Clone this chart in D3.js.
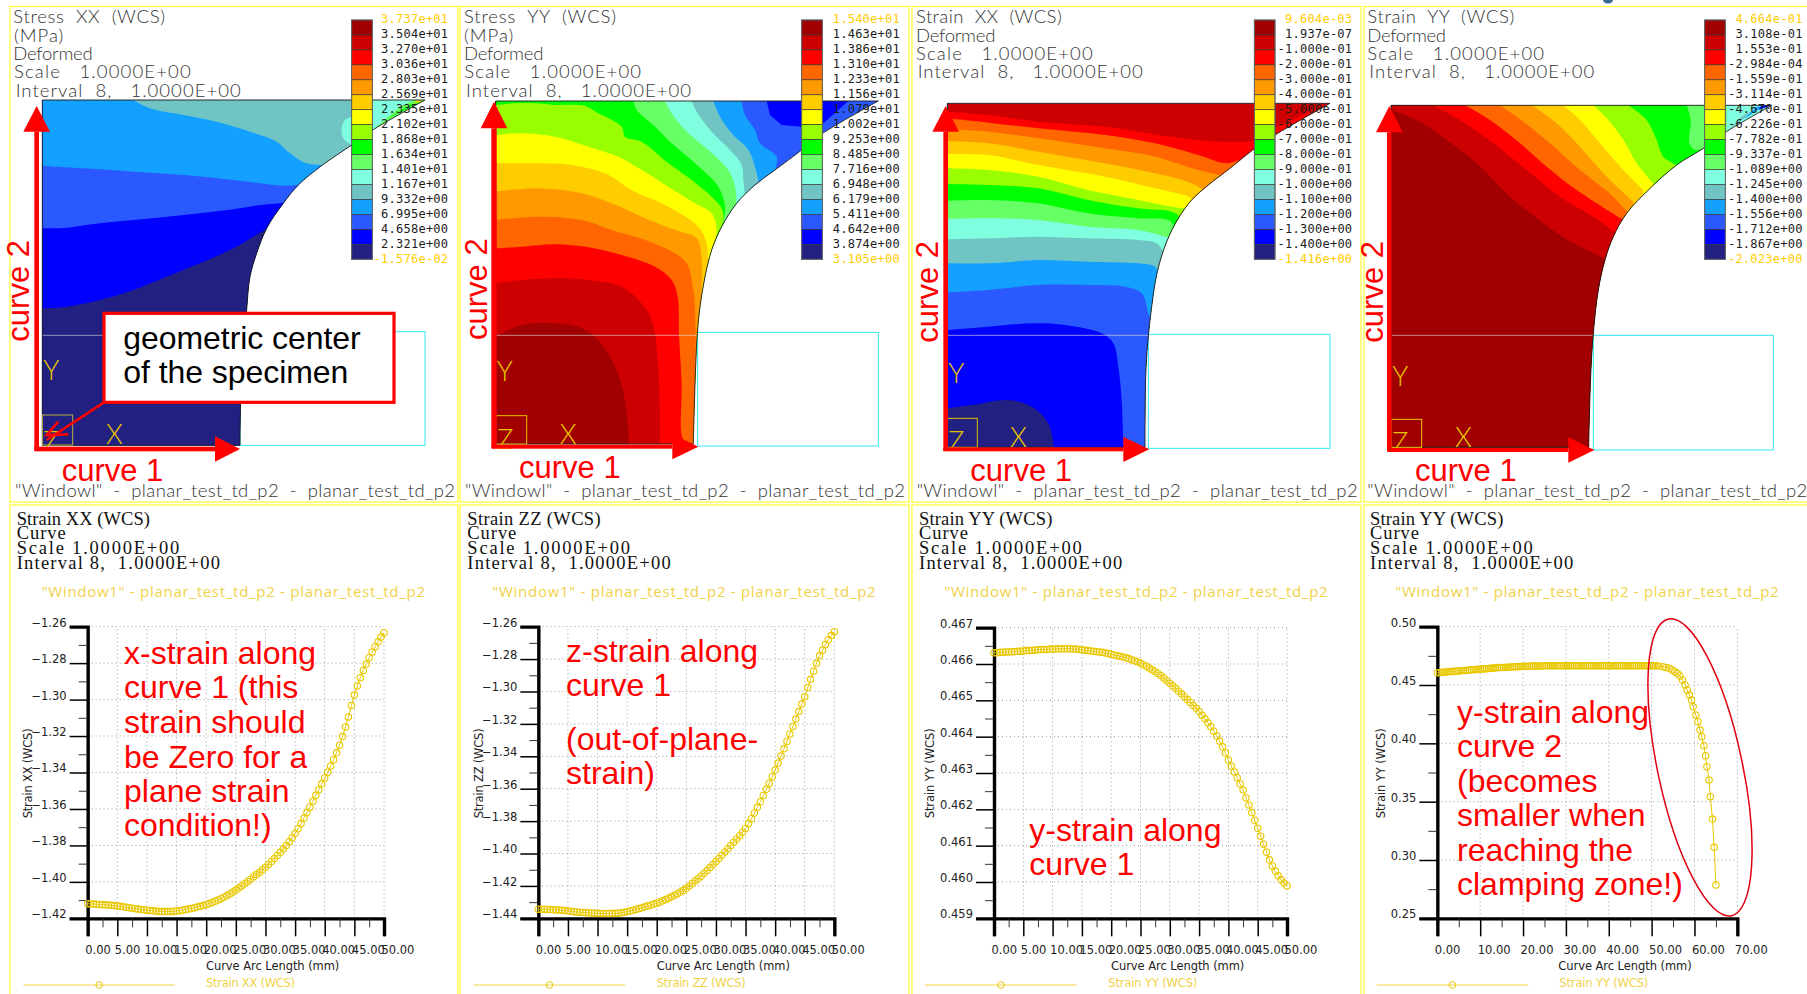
<!DOCTYPE html>
<html><head><meta charset="utf-8">
<script src="https://cdnjs.cloudflare.com/ajax/libs/d3/7.8.5/d3.min.js"></script>
<style>html,body{margin:0;padding:0;background:#fff;overflow:hidden}svg{display:block}text{white-space:pre}</style>
</head><body><svg id="c" width="1807" height="994"></svg>
<script>
// ---------- DATA ----------
const palette=["#a00000","#cc0000","#ff0000","#ff6600","#ff9900","#ffcc00","#ffff00","#99ff00","#00ff00","#66ff66","#80ffe0","#70c4c4","#14a0ff","#2a5aff","#0000ff","#222080"];
const levelsStressXX=["3.737e+01","3.504e+01","3.270e+01","3.036e+01","2.803e+01","2.569e+01","2.335e+01","2.102e+01","1.868e+01","1.634e+01","1.401e+01","1.167e+01","9.332e+00","6.995e+00","4.658e+00","2.321e+00","-1.576e-02"];
const levelsStressYY=["1.540e+01","1.463e+01","1.386e+01","1.310e+01","1.233e+01","1.156e+01","1.079e+01","1.002e+01","9.253e+00","8.485e+00","7.716e+00","6.948e+00","6.179e+00","5.411e+00","4.642e+00","3.874e+00","3.105e+00"];
const levelsStrainXX=["9.604e-03","1.937e-07","-1.000e-01","-2.000e-01","-3.000e-01","-4.000e-01","-5.000e-01","-6.000e-01","-7.000e-01","-8.000e-01","-9.000e-01","-1.000e+00","-1.100e+00","-1.200e+00","-1.300e+00","-1.400e+00","-1.416e+00"];
const levelsStrainYY=["4.664e-01","3.108e-01","1.553e-01","-2.984e-04","-1.559e-01","-3.114e-01","-4.670e-01","-6.226e-01","-7.782e-01","-9.337e-01","-1.089e+00","-1.245e+00","-1.400e+00","-1.556e+00","-1.712e+00","-1.867e+00","-2.023e+00"];

// Specimen outlines and contour lines (reading grid: 3 units per pixel)
const outlineA=[[127,300],[1275,300],[1115,392],[1055,435],[965,497],[895,555],[850,610],[800,685],[770,760],[750,830],[740,930],[730,1060],[722,1200],[720,1336],[127,1336]];
const outlineB=[[122,303],[1270,303],[1100,402],[1040,450],[960,510],[900,555],[845,610],[800,680],[770,750],[750,830],[735,920],[727,1000],[722,1100],[717,1250],[715,1332],[122,1332]];
const outlineC=[[127,310],[1275,310],[1110,405],[1050,445],[975,505],[910,555],[860,600],[820,655],[785,725],[757,815],[740,920],[728,1030],[722,1130],[720,1342],[127,1342]];
const outlineD=[[93,316],[1235,316],[1095,398],[1035,442],[950,495],[865,570],[800,640],[760,710],[735,780],[715,870],[700,1000],[692,1130],[686,1342],[93,1342]];

const contoursA=[
 [11,[[1060,300],[1060,345],[1035,360],[1025,385],[1030,415],[1055,435]]],
 [12,[[400,300],[450,325],[550,345],[650,365],[750,395],[830,425],[870,460],[920,490],[985,495]]],
 [13,[[127,498],[250,505],[400,515],[550,525],[700,540],[850,557],[905,553]]],
 [14,[[127,685],[200,683],[300,670],[400,660],[500,650],[600,640],[700,628],[780,615],[860,608]]],
 [15,[[127,925],[200,920],[300,900],[400,870],[500,830],[600,790],[700,745],[760,710],[810,680]]]];
const patchesA=[[9,[[1115,392],[1200,320],[1240,300],[1275,300]]],[8,[[1165,355],[1230,315],[1275,300]]],[5,[[1240,312],[1275,300],[1250,302]]]];
const contoursB=[
 [12,[[860,303],[870,345],[900,390],[915,430],[965,470],[960,510]]],
 [11,[[775,303],[795,350],[830,400],[880,450],[900,500],[910,540]]],
 [10,[[710,303],[725,335],[770,395],[820,445],[860,495],[865,540],[870,590]]],
 [9,[[630,303],[650,340],[690,390],[760,450],[820,510],[840,560],[845,610]]],
 [8,[[535,303],[545,330],[600,380],[650,430],[720,490],[790,560],[810,620],[805,665]]],
 [7,[[122,315],[180,310],[240,310],[300,315],[390,318],[430,340],[500,380],[510,410],[560,425],[640,490],[710,540],[770,590],[800,625],[805,660],[785,715]]],
 [6,[[122,405],[200,400],[300,410],[400,440],[490,470],[560,510],[640,560],[720,610],[770,640],[785,690],[770,760]]],
 [5,[[122,490],[250,490],[350,495],[450,520],[530,570],[640,620],[730,680],[755,730],[758,790],[750,830]]],
 [4,[[122,575],[250,565],[380,580],[470,610],[560,650],[660,690],[725,715],[740,780],[738,900]]],
 [3,[[122,660],[250,650],[380,660],[470,690],[570,720],[660,760],[695,790],[715,870],[722,1000],[720,1150],[716,1340]]],
 [2,[[122,745],[200,740],[300,733],[400,742],[500,765],[600,800],[650,840],[668,890],[672,1000],[680,1150],[685,1320],[712,1334]]],
 [1,[[122,850],[200,840],[300,835],[400,840],[500,860],[560,910],[590,960],[610,1100],[615,1340]]],
 [0,[[122,1010],[200,975],[290,970],[380,985],[430,1020],[480,1100],[510,1200],[523,1340]]]];
const patchesB=[[14,[[935,303],[945,345],[980,375],[1040,380],[1105,370],[1180,303]]]];
const contoursC=[
 [2,[[127,335],[250,345],[400,365],[600,380],[800,410],[950,425],[1050,420],[1110,385],[1180,350],[1270,312]]],
 [3,[[127,355],[250,368],[400,385],[600,405],[750,430],[880,465],[965,490],[1000,480]]],
 [4,[[127,388],[250,395],[400,415],[600,445],[750,470],[880,510],[945,525]]],
 [5,[[127,423],[250,430],[400,455],[600,490],[750,520],[860,550],[895,570]]],
 [6,[[127,462],[250,465],[400,495],[600,530],[750,565],[850,590],[865,600]]],
 [7,[[127,505],[250,510],[400,530],[550,570],[700,600],[800,620],[845,625]]],
 [8,[[127,552],[250,555],[400,565],[550,600],[700,625],[800,635],[825,650]]],
 [9,[[127,602],[250,600],[400,610],[550,640],[700,655],[790,660],[810,680]]],
 [10,[[127,657],[250,655],[400,660],[550,680],[700,690],[780,710],[795,715]]],
 [11,[[127,718],[250,715],[400,710],[550,715],[700,720],[755,730],[780,765]]],
 [12,[[127,790],[250,790],[400,780],[550,785],[700,790],[750,800],[760,820]]],
 [13,[[127,877],[250,870],[400,855],[550,855],[660,860],[710,880],[730,940],[738,960]]],
 [14,[[127,990],[250,980],[380,970],[480,975],[590,1000],[625,1030],[640,1100],[650,1200],[655,1345]]],
 [15,[[127,1225],[200,1215],[310,1200],[380,1220],[430,1270],[447,1345]]]];
const patchesC=[];
const contoursD=[
 [9,[[1100,316],[1100,396]]],
 [8,[[980,316],[992,360],[988,430],[1005,450],[1030,445]]],
 [7,[[805,316],[860,360],[890,420],[910,470],[950,495]]],
 [6,[[700,316],[745,360],[790,420],[830,490],[875,545],[885,555]]],
 [5,[[610,316],[660,360],[720,430],[790,510],[850,570]]],
 [4,[[515,316],[590,370],[660,440],[740,530],[820,605]]],
 [3,[[420,316],[490,365],[570,430],[660,510],[760,590],[805,640]]],
 [2,[[315,316],[390,360],[480,430],[560,500],[650,570],[790,660]]],
 [1,[[220,316],[300,360],[400,430],[500,510],[600,590],[700,650],[768,700]]],
 [0,[[93,330],[170,360],[260,420],[350,490],[450,590],[550,670],[640,730],[735,775]]]];
const patchesD=[[11,[[1098,396],[1165,345],[1195,325],[1150,345]]],[12,[[1150,360],[1200,325],[1235,316],[1190,320]]],[14,[[1195,330],[1235,316],[1205,316]]]];

// Curve plots
const arcLength=[0,0.5,1,1.5,2,2.5,3,3.5,4,4.5,5,5.5,6,6.5,7,7.5,8,8.5,9,9.5,10,10.5,11,11.5,12,12.5,13,13.5,14,14.5,15,15.5,16,16.5,17,17.5,18,18.5,19,19.5,20,20.5,21,21.5,22,22.5,23,23.5,24,24.5,25,25.5,26,26.5,27,27.5,28,28.5,29,29.5,30,30.5,31,31.5,32,32.5,33,33.5,34,34.5,35,35.5,36,36.5,37,37.5,38,38.5,39,39.5,40,40.5,41,41.5,42,42.5,43,43.5,44,44.5,45,45.5,46,46.5,47,47.5,48,48.5,49,49.5,50];
const strainXX=[-1.4120,-1.4121,-1.4122,-1.4123,-1.4124,-1.4125,-1.4126,-1.4127,-1.4128,-1.4130,-1.4132,-1.4134,-1.4137,-1.4139,-1.4142,-1.4144,-1.4147,-1.4149,-1.4151,-1.4153,-1.4155,-1.4157,-1.4159,-1.4160,-1.4162,-1.4163,-1.4163,-1.4163,-1.4162,-1.4161,-1.4160,-1.4158,-1.4155,-1.4152,-1.4149,-1.4146,-1.4142,-1.4138,-1.4134,-1.4130,-1.4125,-1.4119,-1.4113,-1.4106,-1.4100,-1.4092,-1.4084,-1.4075,-1.4066,-1.4056,-1.4045,-1.4034,-1.4022,-1.4010,-1.3998,-1.3985,-1.3972,-1.3960,-1.3947,-1.3933,-1.3920,-1.3904,-1.3888,-1.3872,-1.3855,-1.3838,-1.3820,-1.3800,-1.3780,-1.3758,-1.3735,-1.3708,-1.3680,-1.3650,-1.3620,-1.3590,-1.3558,-1.3525,-1.3495,-1.3462,-1.3430,-1.3398,-1.3365,-1.3330,-1.3292,-1.3250,-1.3203,-1.3150,-1.3095,-1.3032,-1.2975,-1.2925,-1.2880,-1.2840,-1.2805,-1.2770,-1.2740,-1.2710,-1.2683,-1.2657,-1.2633];
const strainZZ=[-1.4344,-1.4344,-1.4344,-1.4345,-1.4346,-1.4347,-1.4348,-1.4349,-1.4350,-1.4352,-1.4355,-1.4357,-1.4359,-1.4361,-1.4362,-1.4364,-1.4365,-1.4366,-1.4367,-1.4368,-1.4369,-1.4370,-1.4370,-1.4370,-1.4370,-1.4369,-1.4369,-1.4368,-1.4366,-1.4363,-1.4359,-1.4355,-1.4350,-1.4345,-1.4340,-1.4335,-1.4329,-1.4323,-1.4317,-1.4312,-1.4307,-1.4300,-1.4292,-1.4284,-1.4276,-1.4267,-1.4258,-1.4248,-1.4238,-1.4227,-1.4215,-1.4200,-1.4185,-1.4170,-1.4155,-1.4140,-1.4122,-1.4105,-1.4087,-1.4068,-1.4050,-1.4030,-1.4010,-1.3990,-1.3970,-1.3950,-1.3930,-1.3910,-1.3890,-1.3868,-1.3845,-1.3815,-1.3785,-1.3750,-1.3715,-1.3680,-1.3642,-1.3604,-1.3566,-1.3526,-1.3485,-1.3442,-1.3398,-1.3354,-1.3308,-1.3262,-1.3216,-1.3170,-1.3124,-1.3078,-1.3032,-1.2975,-1.2925,-1.2875,-1.2826,-1.2780,-1.2745,-1.2710,-1.2680,-1.2655,-1.2631];
const strainYYcurve1=[.46631,.46631,.46632,.46632,.46633,.46633,.46634,.46634,.46635,.46635,.46636,.46637,.46637,.46638,.46638,.46639,.46640,.46640,.46640,.46641,.46641,.46641,.46642,.46642,.46642,.46642,.46642,.46641,.46641,.46640,.46639,.46638,.46637,.46636,.46635,.46634,.46633,.46632,.46630,.46629,.46627,.46625,.46623,.46621,.46619,.46617,.46615,.46612,.46609,.46606,.46602,.46598,.46594,.46589,.46584,.46579,.46574,.46568,.46561,.46554,.46547,.46540,.46533,.46525,.46518,.46510,.46502,.46494,.46486,.46478,.46469,.46459,.46449,.46438,.46427,.46415,.46402,.46388,.46372,.46355,.46336,.46319,.46303,.46287,.46270,.46253,.46232,.46212,.46191,.46170,.46148,.46126,.46104,.46082,.46061,.46044,.46030,.46017,.46006,.45997,.45990];
const arcCurve2Tail=[50.5,51,51.6,52.6,53.3,54.1,54.8,55.4,56,56.6,57.2,57.8,58.3,58.8,59.3,59.7,60.3,60.8,61.3,61.7,62.2,62.6,62.9,63.4,63.7,64.2,64.6,65];
const strainYYcurve2=[.4606,.4607,.4609,.4610,.4612,.4613,.4615,.4616,.4618,.4619,.4621,.4622,.4624,.4625,.4627,.4628,.4630,.4631,.4633,.4634,.4636,.4637,.4639,.4640,.4642,.4643,.4645,.4646,.4648,.4649,.4650,.4651,.4652,.4653,.4654,.4655,.4656,.4657,.4658,.4659,.4660,.4660,.4661,.4661,.4662,.4662,.4662,.4663,.4663,.4663,.4664,.4664,.4664,.4664,.4664,.4665,.4665,.4665,.4665,.4665,.4665,.4665,.4665,.4665,.4665,.4665,.4665,.4665,.4665,.4665,.4665,.4665,.4665,.4665,.4665,.4665,.4665,.4665,.4665,.4665,.4665,.4665,.4665,.4665,.4665,.4665,.4665,.4665,.4665,.4665,.4665,.4665,.4665,.4665,.4665,.4665,.4665,.4665,.4665,.4665,.4665,.4665,.4664,.4663,.4657,.4651,.4643,.4629,.4614,.4600,.4577,.4543,.4500,.4457,.4414,.4371,.4314,.4243,.4186,.4114,.4057,.3980,.3894,.3800,.3686,.3543,.3351,.3109,.2786];
const ticksX50=[0,5,10,15,20,25,30,35,40,45,50];
const ticksX70=[0,10,20,30,40,50,60,70];
const ticksYneg142=[-1.26,-1.28,-1.30,-1.32,-1.34,-1.36,-1.38,-1.40,-1.42];
const ticksYneg144=[-1.26,-1.28,-1.30,-1.32,-1.34,-1.36,-1.38,-1.40,-1.42,-1.44];
const ticksY467=[.459,.460,.461,.462,.463,.464,.465,.466,.467];
const ticksY50=[.25,.30,.35,.40,.45,.50];

const topPanels=[
 {cx:0,bar:1055,lblR:1345,lev:levelsStressXX,out:outlineA,base:10,con:contoursA,pat:patchesA,cy:[720,995,1275,1336],hl:[127,1006,312],
  head:[["Stress  XX  (WCS)",40,70,455],["(MPa)",42,125,148],["Deformed",40,180,238],["Scale   1.0000E+00",42,235,530],["Interval  8,   1.0000E+00",47,290,675]],
  foot:[45,1320],vArrow:[110,1350,395,318,14],hArrow:[1347,103,645,720,14],c2:[88,1025],c1:[185,1443],yl:[130,1140],xl:[318,1332],box:[127,1245,218,1335],z:[130,1352]},
 {cx:455,bar:1040,lblR:1335,lev:levelsStressYY,out:outlineB,base:13,con:contoursB,pat:patchesB,cy:[728,997,1270,1338],hl:[122,1006,728],
  head:[["Stress  YY  (WCS)",27,70,456],["(MPa)",27,125,148],["Deformed",27,180,238],["Scale   1.0000E+00",28,235,530],["Interval  8,   1.0000E+00",33,290,675]],
  foot:[30,1320],vArrow:[117,1345,385,305,16],hArrow:[1340,110,652,730,12],c2:[97,1020],c1:[192,1435],yl:[125,1142],xl:[314,1332],box:[122,1247,215,1332],z:[127,1348]},
 {cx:905,bar:1048,lblR:1342,lev:levelsStrainXX,out:outlineC,base:1,con:contoursC,pat:patchesC,cy:[730,1003,1275,1345],hl:[127,1006,730],
  head:[["Strain  XX  (WCS)",33,70,437],["Deformed",33,125,238],["Scale   1.0000E+00",33,180,530],["Interval  8,   1.0000E+00",38,235,675]],
  foot:[35,1323],vArrow:[122,1352,395,318,14],hArrow:[1348,115,655,733,12],c2:[100,1028],c1:[196,1443],yl:[130,1150],xl:[315,1340],box:[127,1255,217,1342],z:[130,1354]},
 {cx:1360,bar:1034,lblR:1328,lev:levelsStrainYY,out:outlineD,base:10,con:contoursD,pat:patchesD,cy:[700,1006,1240,1350],hl:[93,1006,700],
  head:[["Strain  YY  (WCS)",22,70,441],["Deformed",22,125,236],["Scale   1.0000E+00",22,180,530],["Interval  8,   1.0000E+00",28,235,675]],
  foot:[22,1320],vArrow:[88,1355,397,318,14],hArrow:[1350,85,625,703,12],c2:[68,1028],c1:[165,1443],yl:[97,1158],xl:[285,1342],box:[93,1258,185,1342],z:[97,1356]}];

const charts=[
 {cx:0,ttl:"Strain XX (WCS)",xs:arcLength,ys:strainXX,yDom:[-1.42,-1.26],xDom:[0,50],xT:ticksX50,yT:ticksYneg142,fmt:d3.format(".2f"),
  plot:[263,1152,380,1255],tx:50,orange:125,yTitleX:95,axT:618,leg:[70,525,618],
  note:[372,["x-strain along",491],["curve 1 (this",595],["strain should",698],["be Zero for a",803],["plane strain",906],["condition!)",1009]]},
 {cx:455,ttl:"Strain ZZ (WCS)",xs:arcLength,ys:strainZZ,yDom:[-1.44,-1.26],xDom:[0,50],xT:ticksX50,yT:ticksYneg144,fmt:d3.format(".2f"),
  plot:[250,1138,380,1255],tx:37,orange:112,yTitleX:83,axT:605,leg:[57,510,605],
  note:[333,["z-strain along",486],["curve 1",588],["(out-of-plane-",751],["strain)",853]]},
 {cx:905,ttl:"Strain YY (WCS)",xs:arcLength,ys:strainYYcurve1,yDom:[.459,.467],xDom:[0,50],xT:ticksX50,yT:ticksY467,fmt:d3.format(".3f"),
  plot:[267,1146,383,1255],tx:42,orange:118,yTitleX:88,axT:618,leg:[60,515,610],
  note:[373,["y-strain along",1023],["curve 1",1125]]},
 {cx:1360,ttl:"Strain YY (WCS)",xs:arcLength.concat(arcCurve2Tail),ys:strainYYcurve2,yDom:[.25,.50],xDom:[0,70],xT:ticksX70,yT:ticksY50,fmt:d3.format(".2f"),
  plot:[232,1132,380,1255],tx:30,orange:106,yTitleX:75,axT:595,leg:[50,505,598],
  note:[291,["y-strain along",668],["curve 2",771],["(becomes",875],["smaller when",978],["reaching the",1083],["clamping zone!)",1186]],ellipse:[1020,802,127,455,-12]}];

const frames=[[10,6.5,458,502],[460,6.5,909,502],[912,6.5,1361,502],[1364,6.5,1815,502],[10,505,458,1000],[460,505,909,1000],[912,505,1361,1000],[1364,505,1815,1000]];
const footer='"Windowl"  -  planar_test_td_p2  -  planar_test_td_p2';
const orangeTitle='"Window1" - planar_test_td_p2 - planar_test_td_p2';

// ---------- DRAW ----------
const svg=d3.select("#c");
const U=d3.scaleLinear().domain([0,3]).range([0,1]);   // reading grid -> pixels
const RED="#ff0000", YEL="#f0d24a", RING="#e8c800";
const txt=(g,s,x,y,o={})=>{const t=g.append("text").attr("x",x).attr("y",y).text(s)
  .attr("font-family",o.f||"Liberation Sans").attr("font-size",o.s||12).attr("fill",o.c||"#000");
  if(o.len)t.attr("textLength",o.len).attr("lengthAdjust","spacing");
  if(o.a)t.attr("text-anchor",o.a); if(o.w)t.attr("font-weight",o.w);
  if(o.r!==undefined)t.attr("transform",`rotate(${o.r} ${x} ${y})`);return t;};

frames.forEach(f=>svg.append("rect").attr("x",f[0]).attr("y",f[1]).attr("width",f[2]-f[0]).attr("height",f[3]-f[1]).attr("fill","none").attr("stroke","#ffff30").attr("stroke-width",1.2));
svg.append("ellipse").attr("cx",1608).attr("cy",0).attr("rx",5).attr("ry",3.5).attr("fill","#3b6a8f");

topPanels.forEach((p,pi)=>{
  const X=d3.scaleLinear().domain([0,3]).range([p.cx,p.cx+1]), Y=U;
  const line=d3.line().x(d=>X(d[0])).y(d=>Y(d[1]));
  const smooth=d3.line().x(d=>X(d[0])).y(d=>Y(d[1])).curve(d3.curveCatmullRom.alpha(0.5));
  const lin=pts=>pts.map(d=>"L"+X(d[0])+","+Y(d[1])).join("");
  const g=svg.append("g");
  const id="clip"+pi;
  const n=p.out.length;
  const outD=smooth(p.out.slice(1,n-1))+lin([p.out[n-1],p.out[0]])+"Z";
  svg.append("clipPath").attr("id",id).append("path").attr("d",outD);
  const cl=g.append("g").attr("clip-path",`url(#${id})`);
  g.insert("rect",":first-child").attr("x",X(p.cy[0])).attr("y",Y(p.cy[1])).attr("width",U(p.cy[2]-p.cy[0])).attr("height",U(p.cy[3]-p.cy[1])).attr("fill","none").attr("stroke","#30e8f0").attr("stroke-width",1);
  cl.append("path").attr("d",outD).attr("fill",palette[p.base]);
  p.con.forEach(([ci,pts])=>{
    const a=pts[0],b=pts[pts.length-1];
    cl.append("path").attr("d",smooth(pts)+lin([[b[0],1420],[60,1420],[60,280],[a[0],280]])+"Z").attr("fill",palette[ci]);
  });
  p.pat.forEach(([ci,pts])=>cl.append("path").attr("d",line(pts)+"Z").attr("fill",palette[ci]));
  g.append("line").attr("x1",X(p.hl[0])).attr("x2",X(p.hl[2])).attr("y1",Y(p.hl[1])).attr("y2",Y(p.hl[1])).attr("stroke","#d8d8d8").attr("stroke-width",.8).attr("opacity",.8);
  g.append("path").attr("d",outD).attr("fill","none").attr("stroke","#1a1a1a").attr("stroke-width",.9);
  // coordinate triad
  const tri="#e8c400";
  g.append("rect").attr("x",X(p.box[0])).attr("y",Y(p.box[1])).attr("width",U(p.box[2]-p.box[0])).attr("height",U(p.box[3]-p.box[1])).attr("fill","none").attr("stroke",pi==0?"#b8b040":tri).attr("stroke-width",1);
  txt(g,"Y",X(p.yl[0]),Y(p.yl[1]),{s:27,c:tri,f:"Lato",w:300});
  txt(g,"X",X(p.xl[0]),Y(p.xl[1]),{s:27,c:tri,f:"Lato",w:300});
  txt(g,"Z",X(p.z[0]),Y(p.z[1]),{s:27,c:tri,f:"Lato",w:300});
  // colour bar
  const bandY=d3.scaleBand().domain(d3.range(16)).range([Y(60),Y(778)]).paddingInner(0);
  const barG=g.append("g");
  palette.forEach((c,i)=>barG.append("rect").attr("x",X(p.bar)).attr("width",U(62)).attr("y",bandY(i)).attr("height",bandY.bandwidth()).attr("fill",c).attr("stroke","#333").attr("stroke-width",.6));
  barG.append("rect").attr("x",X(p.bar)).attr("width",U(62)).attr("y",Y(60)).attr("height",U(718)).attr("fill","none").attr("stroke","#666").attr("stroke-width",1);
  const lblY=d3.scalePoint().domain(d3.range(17)).range([Y(55),Y(775)]);
  p.lev.forEach((s,i)=>txt(g,s,X(p.lblR),lblY(i)+4.3,{f:"DejaVu Sans Mono",s:12,a:"end",c:(i==0||i==16)?"#ffcc00":"#1c1c1c"}).attr("letter-spacing",.25));
  // header + footer
  p.head.forEach(h=>txt(g,h[0],X(h[1]),Y(h[2]),{s:18.5,c:"#333",len:U(h[3]),f:"Lato",w:300}));
  txt(g,footer,X(p.foot[0]),Y(1492),{s:18.5,c:"#333",len:U(p.foot[1]),f:"Lato",w:300});
  // red curve arrows
  const va=p.vArrow, ha=p.hArrow;
  const arrow=g.append("g").attr("fill",RED);
  arrow.append("rect").attr("x",X(va[0]-va[4]/2)).attr("y",Y(va[2])).attr("width",U(va[4])).attr("height",U(va[1]-va[2]));
  arrow.append("path").attr("d",line([[va[0]-40,va[2]],[va[0]+40,va[2]],[va[0],va[3]]])+"Z");
  arrow.append("rect").attr("x",X(ha[1])).attr("y",Y(ha[0]-ha[4]/2)).attr("width",U(ha[2]-ha[1])).attr("height",U(ha[4]));
  arrow.append("path").attr("d",line([[ha[2],ha[0]-38],[ha[2],ha[0]+38],[ha[3],ha[0]]])+"Z");
  txt(g,"curve 2",X(p.c2[0]),Y(p.c2[1]),{s:31,c:RED,r:-90});
  txt(g,"curve 1",X(p.c1[0]),Y(p.c1[1]),{s:31,c:RED});
  if(pi==0){
    g.append("rect").attr("x",X(312)).attr("y",Y(940)).attr("width",U(870)).attr("height",U(267)).attr("fill","#fff").attr("stroke",RED).attr("stroke-width",3.2);
    txt(g,"geometric center",X(370),Y(1047),{s:32,c:"#000",len:U(712)});
    txt(g,"of the specimen",X(370),Y(1150),{s:32,c:"#000",len:U(675)});
    g.append("path").attr("d",line([[312,1207],[140,1320]])).attr("stroke",RED).attr("stroke-width",2.6).attr("fill","none");
    g.append("path").attr("d",line([[205,1303],[140,1305],[175,1265]])).attr("stroke",RED).attr("stroke-width",2.6).attr("fill","none");
  }
});

charts.forEach(c=>{
  const Gx=d3.scaleLinear().domain([0,3]).range([c.cx,c.cx+1]);
  const Gy=d3.scaleLinear().domain([0,3]).range([500,501]);
  const g=svg.append("g");
  const [x0,x1,y0,y1]=c.plot;
  const x=d3.scaleLinear().domain(c.xDom).range([Gx(x0),Gx(x1)]);
  const y=d3.scaleLinear().domain(c.yDom).range([Gy(y1),Gy(y0)]);
  // header
  [[c.ttl,75,400],["Curve",118,147],["Scale 1.0000E+00",163,488],["Interval 8,  1.0000E+00",208,610]].forEach(h=>
    txt(g,h[0],Gx(c.tx),Gy(h[1]),{s:18.5,c:"#111",len:U(h[2]),f:"Liberation Serif"}));
  txt(g,orangeTitle,Gx(c.orange),Gy(290),{s:15,c:YEL,len:U(1150),f:"Open Sans"});
  // grid
  const px=x.range(), py=y.range();
  const grid=g.append("g").attr("stroke","#999").attr("stroke-width",1).attr("stroke-dasharray","1,3").attr("fill","none");
  grid.selectAll(".gx").data(c.xT.filter(v=>v>c.xDom[0])).enter().append("line").attr("x1",d=>x(d)).attr("x2",d=>x(d)).attr("y1",py[0]).attr("y2",py[1]);
  grid.selectAll(".gy").data(c.yT.filter(v=>v>c.yDom[0])).enter().append("line").attr("y1",d=>y(d)).attr("y2",d=>y(d)).attr("x1",px[0]).attr("x2",px[1]);
  // axes: majors
  const ax=d3.axisBottom(x).tickValues(c.xT).tickSize(18).tickPadding(10).tickFormat(d3.format(".2f"));
  const ay=d3.axisLeft(y).tickValues(c.yT).tickSize(18).tickPadding(3).tickFormat(c.fmt);
  const xg=g.append("g").attr("transform",`translate(0,${py[0]})`).call(ax);
  const yg=g.append("g").attr("transform",`translate(${px[0]},0)`).call(ay);
  // minors
  const mids=a=>d3.pairs(a).map(([p,q])=>(p+q)/2);
  const mx=g.append("g").attr("transform",`translate(0,${py[0]})`).call(d3.axisBottom(x).tickValues(mids(c.xT)).tickSize(9).tickFormat(""));
  const my=g.append("g").attr("transform",`translate(${px[0]},0)`).call(d3.axisLeft(y).tickValues(mids(c.yT.slice().sort(d3.ascending))).tickSize(9).tickFormat(""));
  [mx,my].forEach(s=>{s.select(".domain").remove();s.selectAll("line").attr("stroke","#333").attr("stroke-width",1);});
  [xg,yg].forEach(s=>{s.select(".domain").attr("stroke","#000").attr("stroke-width",3.4);s.selectAll(".tick line").attr("stroke","#000").attr("stroke-width",1.5);
    s.selectAll("text").attr("font-family","DejaVu Sans").attr("font-size",11.5).attr("fill","#222");});
  xg.selectAll("text").attr("text-anchor","start").attr("dx",-3).attr("dy",".71em");
  yg.selectAll("text").attr("dy","-0.05em");
  // curve + rings
  const data=c.xs.map((v,i)=>[v,c.ys[i]]);
  g.append("path").attr("d",d3.line().x(d=>x(d[0])).y(d=>y(d[1]))(data)).attr("fill","none").attr("stroke",RING).attr("stroke-width",1);
  g.selectAll(".ring").data(data).enter().append("circle").attr("cx",d=>x(d[0])).attr("cy",d=>y(d[1])).attr("r",3.2).attr("fill","none").attr("stroke",RING).attr("stroke-width",1.1);
  // axis titles
  txt(g,"Curve Arc Length (mm)",Gx(c.axT),Gy(1410),{s:11.5,c:"#222",len:U(400),f:"DejaVu Sans"});
  txt(g,c.ttl,Gx(c.yTitleX),Gy(955),{s:11.5,c:"#222",r:-90,f:"DejaVu Sans"}).attr("textLength",U(270)).attr("lengthAdjust","spacing");
  // legend
  g.append("line").attr("x1",Gx(c.leg[0])).attr("x2",Gx(c.leg[1])).attr("y1",Gy(1455)).attr("y2",Gy(1455)).attr("stroke",YEL).attr("stroke-width",1);
  g.append("circle").attr("cx",Gx((c.leg[0]+c.leg[1])/2)).attr("cy",Gy(1455)).attr("r",3.3).attr("fill","none").attr("stroke",RING);
  txt(g,c.ttl,Gx(c.leg[2]),Gy(1461),{s:11.5,c:YEL,len:U(267),f:"DejaVu Sans"});
  // red notes
  const nx=c.note[0];
  c.note.slice(1).forEach(n=>txt(g,n[0],Gx(nx),Gy(n[1]),{s:32,c:RED}));
  if(c.ellipse){const e=c.ellipse;
    g.append("ellipse").attr("cx",Gx(e[0])).attr("cy",Gy(e[1])).attr("rx",U(e[2])).attr("ry",U(e[3])).attr("fill","none").attr("stroke","#e00010").attr("stroke-width",1.5).attr("transform",`rotate(${e[4]} ${Gx(e[0])} ${Gy(e[1])})`);}
});
</script></body></html>
